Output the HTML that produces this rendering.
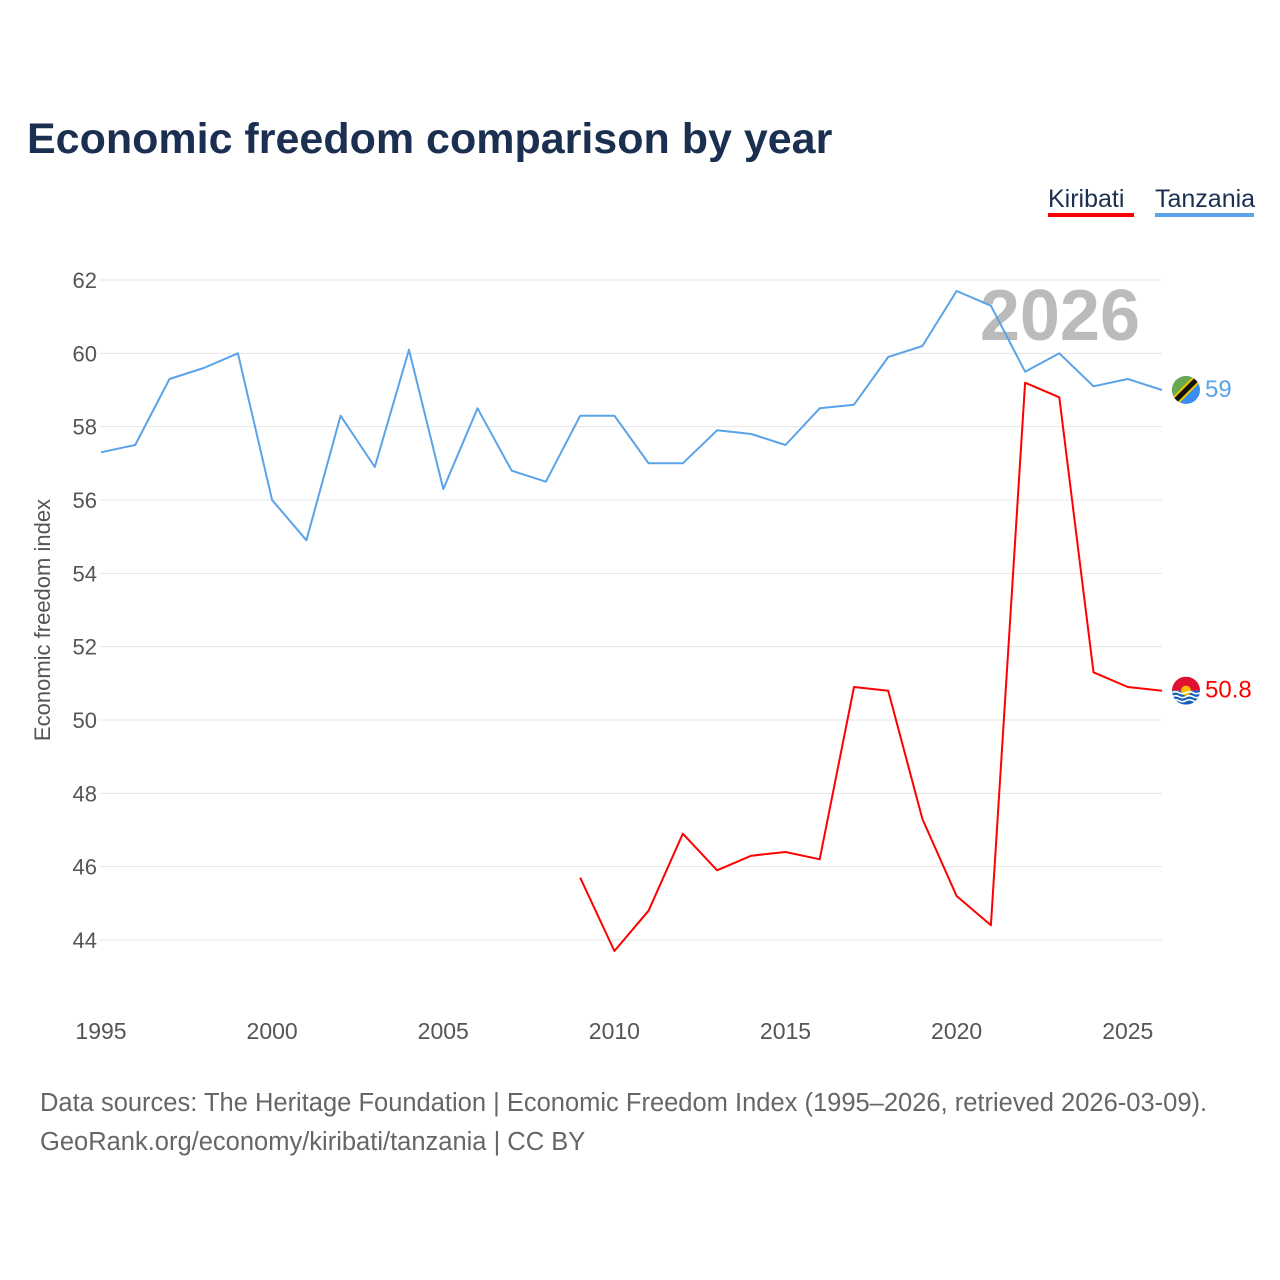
<!DOCTYPE html>
<html><head><meta charset="utf-8"><style>
body{margin:0;background:#fff;font-family:"Liberation Sans",sans-serif;}
</style></head><body>
<svg id="c" width="1280" height="1280" xmlns="http://www.w3.org/2000/svg" style="display:block">
<rect width="1280" height="1280" fill="#fff"/>
<text x="27" y="153" font-size="43" font-weight="bold" fill="#1b2f50">Economic freedom comparison by year</text>
<g><text x="1048" y="207" font-size="25" fill="#1b2f50">Kiribati</text><rect x="1048" y="213" width="86" height="4" fill="#f00"/></g>
<g><text x="1155" y="207" font-size="25" fill="#1b2f50">Tanzania</text><rect x="1155" y="213" width="99" height="4" fill="#5aa3e8"/></g>
<text x="1140" y="340" font-size="72" font-weight="bold" fill="#bbb" text-anchor="end">2026</text>
<text transform="translate(50,620) rotate(-90)" font-size="22" fill="#555" text-anchor="middle">Economic freedom index</text>
<g id="grid"></g><g id="lines"></g><g id="labels"></g>
<text x="40" y="1111" font-size="25.5" fill="#666">Data sources: The Heritage Foundation | Economic Freedom Index (1995–2026, retrieved 2026-03-09).</text>
<text x="40" y="1150" font-size="25.5" fill="#666">GeoRank.org/economy/kiribati/tanzania | CC BY</text>
</svg>
<script>
const years=[1995,1996,1997,1998,1999,2000,2001,2002,2003,2004,2005,2006,2007,2008,2009,2010,2011,2012,2013,2014,2015,2016,2017,2018,2019,2020,2021,2022,2023,2024,2025,2026];
const tanzania=[57.3,57.5,59.3,59.6,60.0,56.0,54.9,58.3,56.9,60.1,56.3,58.5,56.8,56.5,58.3,58.3,57.0,57.0,57.9,57.8,57.5,58.5,58.6,59.9,60.2,61.7,61.3,59.5,60.0,59.1,59.3,59.0];
const kiribati=[null,null,null,null,null,null,null,null,null,null,null,null,null,null,45.7,43.7,44.8,46.9,45.9,46.3,46.4,46.2,50.9,50.8,47.3,45.2,44.4,59.2,58.8,51.3,50.9,50.8];
const yTicks=[44,46,48,50,52,54,56,58,60,62];
const xTicks=[1995,2000,2005,2010,2015,2020,2025];
const NS="http://www.w3.org/2000/svg";
const x=v=>101+(v-1995)*(1061/31);
const y=v=>280+(62-v)*(660/18);
function mk(t,a,p){const e=document.createElementNS(NS,t);for(const k in a)e.setAttribute(k,a[k]);p.appendChild(e);return e;}
const grid=document.getElementById('grid'),lines=document.getElementById('lines'),labels=document.getElementById('labels');
yTicks.forEach(t=>{
 const l=mk('line',{x1:100,x2:1162,y1:y(t),y2:y(t),stroke:'#e6e6e6','stroke-width':1},grid);
 
 
 const tx=mk('text',{x:97,y:y(t)+8,'font-size':22,fill:'#555','text-anchor':'end'},grid);tx.textContent=t;
 
 
});
xTicks.forEach(t=>{
 const tx=mk('text',{x:x(t),y:1039,'font-size':23,fill:'#555','text-anchor':'middle'},grid);tx.textContent=t;
 
 
});
function series(vals,color,name){
 let d='';vals.forEach((v,i)=>{if(v==null)return;d+=(d?'L':'M')+x(years[i]).toFixed(1)+','+y(v).toFixed(1);});
 const p=mk('path',{d:d,fill:'none',stroke:color,'stroke-width':2,'stroke-linejoin':'round'},lines);
 
 
 const lv=vals[vals.length-1],lx=x(years[years.length-1]),ly=y(lv);
 const tx=mk('text',{x:lx+43,y:ly+7,'font-size':24,fill:color},labels);tx.textContent=lv;
 
 
 return [lx+24,ly];
}
const [tx0,ty0]=series(tanzania,'#5aa3e8','tanzania');
const [kx0,ky0]=series(kiribati,'#f00','kiribati');
let g=mk('g',{},labels);


mk('clipPath',{id:'ct'},g).appendChild(document.createElementNS(NS,'circle'));
const c1=g.querySelector('circle');c1.setAttribute('cx',tx0);c1.setAttribute('cy',ty0);c1.setAttribute('r',14);
const gg=mk('g',{'clip-path':'url(#ct)'},g);
mk('rect',{x:tx0-14,y:ty0-14,width:28,height:28,fill:'#3a8ef0'},gg);
mk('polygon',{points:`${tx0-14},${ty0-14} ${tx0+14},${ty0-14} ${tx0-14},${ty0+14}`,fill:'#6aa84f'},gg);
mk('line',{x1:tx0-16,y1:ty0+16,x2:tx0+16,y2:ty0-16,stroke:'#f2c500','stroke-width':9},gg);
mk('line',{x1:tx0-16,y1:ty0+16,x2:tx0+16,y2:ty0-16,stroke:'#111','stroke-width':5},gg);
g=mk('g',{},labels);


mk('clipPath',{id:'ck'},g).appendChild(document.createElementNS(NS,'circle'));
const c2=g.querySelectorAll('circle')[0];c2.setAttribute('cx',kx0);c2.setAttribute('cy',ky0);c2.setAttribute('r',14);
const gk=mk('g',{'clip-path':'url(#ck)'},g);
mk('rect',{x:kx0-14,y:ky0-14,width:28,height:14,fill:'#e0102f'},gk);
mk('rect',{x:kx0-14,y:ky0,width:28,height:14,fill:'#1560b8'},gk);
mk('circle',{cx:kx0,cy:ky0,r:5,fill:'#f6c000'},gk);
[ky0+2,ky0+6,ky0+10].forEach(yy=>mk('path',{d:`M${kx0-14},${yy} q3.5,-2 7,0 t7,0 t7,0 t7,0`,fill:'none',stroke:'#fff','stroke-width':1.6},gk));
</script>
</body></html>
